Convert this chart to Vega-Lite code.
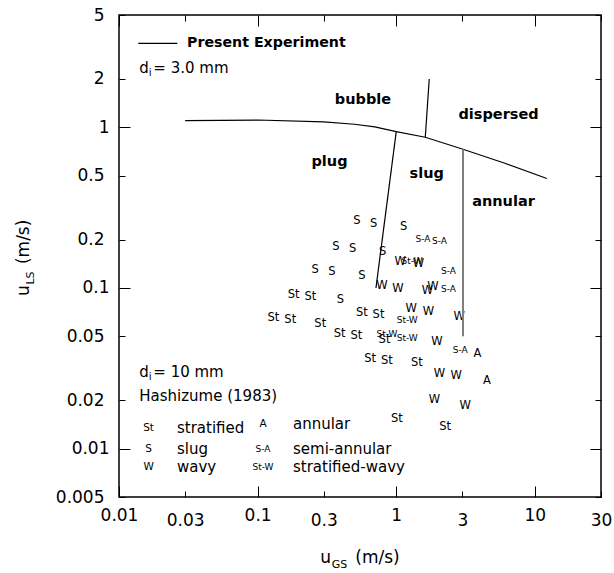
{
 "$schema": "https://vega.github.io/schema/vega-lite/v6.json",
 "width": 482, "height": 482,
 "autosize": "none",
 "padding": {"left": 119, "top": 15, "right": 13, "bottom": 76},
 "background": "white",
 "config": {
  "view": {"stroke": "black", "strokeWidth": 1.5},
  "text": {"font": "DejaVu Sans", "color": "black"},
  "axis": {"grid": false, "domain": false, "title": null, "labelFont": "DejaVu Sans", "labelFontSize": 17, "labelColor": "black", "tickColor": "black", "tickWidth": 1, "labelOverlap": false, "labelFlush": false}
 },
 "datasets": {
  "pts": [
   {"x":0.521,"y":0.261,"t":"S"},{"x":0.686,"y":0.250,"t":"S"},{"x":1.129,"y":0.241,"t":"S"},{"x":1.558,"y":0.202,"t":"S-A"},{"x":2.053,"y":0.197,"t":"S-A"},
   {"x":0.367,"y":0.181,"t":"S"},{"x":0.484,"y":0.175,"t":"S"},{"x":0.797,"y":0.168,"t":"S"},{"x":1.069,"y":0.145,"t":"W"},{"x":1.3,"y":0.147,"t":"St-W"},{"x":1.448,"y":0.142,"t":"W"},{"x":2.384,"y":0.128,"t":"S-A"},
   {"x":0.260,"y":0.129,"t":"S"},{"x":0.344,"y":0.126,"t":"S"},{"x":0.566,"y":0.119,"t":"S"},{"x":0.789,"y":0.103,"t":"W"},{"x":1.029,"y":0.098,"t":"W"},{"x":1.682,"y":0.096,"t":"W"},{"x":1.839,"y":0.101,"t":"W"},{"x":2.384,"y":0.098,"t":"S-A"},
   {"x":0.182,"y":0.091,"t":"St"},{"x":0.240,"y":0.088,"t":"St"},{"x":0.395,"y":0.084,"t":"S"},{"x":0.565,"y":0.070,"t":"St"},{"x":0.745,"y":0.068,"t":"St"},{"x":1.283,"y":0.074,"t":"W"},{"x":1.2,"y":0.063,"t":"St-W"},{"x":1.71,"y":0.071,"t":"W"},{"x":2.847,"y":0.066,"t":"W"},
   {"x":0.130,"y":0.065,"t":"St"},{"x":0.172,"y":0.063,"t":"St"},{"x":0.283,"y":0.060,"t":"St"},{"x":0.390,"y":0.052,"t":"St"},{"x":0.515,"y":0.050,"t":"St"},{"x":0.857,"y":0.052,"t":"St-W"},{"x":0.823,"y":0.0475,"t":"St"},{"x":1.2,"y":0.049,"t":"St-W"},{"x":1.966,"y":0.046,"t":"W"},{"x":2.894,"y":0.041,"t":"S-A"},{"x":3.858,"y":0.039,"t":"A"},
   {"x":0.649,"y":0.036,"t":"St"},{"x":0.857,"y":0.035,"t":"St"},{"x":1.41,"y":0.034,"t":"St"},{"x":2.053,"y":0.029,"t":"W"},{"x":2.708,"y":0.0285,"t":"W"},{"x":4.51,"y":0.0264,"t":"A"},
   {"x":1.889,"y":0.0201,"t":"W"},{"x":3.146,"y":0.0184,"t":"W"},{"x":1.012,"y":0.0152,"t":"St"},{"x":2.256,"y":0.0137,"t":"St"}
  ],
  "legsym": [
   {"x":0.01635,"y":0.01351,"t":"St"},{"x":0.01635,"y":0.00991,"t":"S"},{"x":0.01635,"y":0.00766,"t":"W"},
   {"x":0.1093,"y":0.01418,"t":"A"},{"x":0.1093,"y":0.00991,"t":"S-A"},{"x":0.1093,"y":0.00766,"t":"St-W"}
  ],
  "lines": [
   {"line":"pe","o":1,"x":0.03,"y":1.1},{"line":"pe","o":2,"x":0.1,"y":1.11},{"line":"pe","o":3,"x":0.3,"y":1.08},{"line":"pe","o":4,"x":0.5,"y":1.045},{"line":"pe","o":5,"x":0.7,"y":1.005},{"line":"pe","o":6,"x":1.0,"y":0.94},{"line":"pe","o":7,"x":1.62,"y":0.867},{"line":"pe","o":8,"x":3.03,"y":0.73},{"line":"pe","o":9,"x":6.0,"y":0.6},{"line":"pe","o":10,"x":12.2,"y":0.48},
   {"line":"bd","o":1,"x":1.73,"y":2.0},{"line":"bd","o":2,"x":1.62,"y":0.867},
   {"line":"ps","o":1,"x":1.0,"y":0.94},{"line":"ps","o":2,"x":0.714,"y":0.1},
   {"line":"leg","o":1,"x":0.01378,"y":3.332},{"line":"leg","o":2,"x":0.02634,"y":3.332}
  ],
  "annular": [
   {"o":1,"x":3.03,"y":0.73},{"o":2,"x":3.03,"y":0.05}
  ],
  "regions": [
   {"x":0.575,"y":1.48,"t":"bubble"},{"x":5.47,"y":1.19,"t":"dispersed"},{"x":0.33,"y":0.61,"t":"plug"},{"x":1.66,"y":0.51,"t":"slug"},{"x":5.94,"y":0.344,"t":"annular"}
  ],
  "notes": [
   {"x":0.014,"y":2.339,"t":"d"},{"x":0.01768,"y":2.339,"t":"= 3.0 mm"},
   {"x":0.014,"y":0.03014,"t":"d"},{"x":0.01768,"y":0.03014,"t":"= 10 mm"},
   {"x":0.014,"y":0.02137,"t":"Hashizume (1983)"},
   {"x":0.0262,"y":0.01351,"t":"stratified"},{"x":0.0262,"y":0.00991,"t":"slug"},{"x":0.0262,"y":0.00766,"t":"wavy"},
   {"x":0.1799,"y":0.01418,"t":"annular"},{"x":0.1799,"y":0.00991,"t":"semi-annular"},{"x":0.1799,"y":0.00766,"t":"stratified-wavy"}
  ],
  "subs": [
   {"x":0.0164,"y":2.339,"t":"i"},{"x":0.0164,"y":0.03014,"t":"i"}
  ],
  "bold": [
   {"x":0.03094,"y":3.332,"t":"Present Experiment"}
  ],
  "one": [{"k": 1}]
 },
 "layer": [
  {
   "data": {"name": "pts"},
   "mark": {"type": "text", "font": "DejaVu Sans"},
   "encoding": {
    "x": {"field": "x", "type": "quantitative", "scale": {"type": "log", "domain": [0.01, 30], "nice": false},
      "axis": {"orient": "bottom", "values": [0.01,0.03,0.1,0.3,1,3,10,30], "labelExpr": "'' + datum.value", "labelPadding": 21,
        "tickSize": {"condition": {"test": "abs(log(datum.value)/LN10 - round(log(datum.value)/LN10)) < 0.01", "value": -11}, "value": -6}}},
    "y": {"field": "y", "type": "quantitative", "scale": {"type": "log", "domain": [0.005, 5], "nice": false},
      "axis": {"orient": "left", "values": [0.005,0.01,0.02,0.05,0.1,0.2,0.5,1,2,5], "labelExpr": "'' + datum.value", "labelPadding": 21,
        "tickSize": {"condition": {"test": "abs(log(datum.value)/LN10 - round(log(datum.value)/LN10)) < 0.01", "value": -11}, "value": -6}}},
    "text": {"field": "t"},
    "size": {"condition": {"test": "length(datum.t) > 2", "value": 9}, "value": 11.5}
   }
  },
  {
   "data": {"name": "lines"},
   "mark": {"type": "line", "color": "black", "strokeWidth": 1.2},
   "encoding": {
    "x": {"field": "x", "type": "quantitative", "scale": {"type": "log", "domain": [0.01, 30], "nice": false},
      "axis": {"orient": "top", "values": [0.01,0.03,0.1,0.3,1,3,10,30], "labels": false,
        "tickSize": {"condition": {"test": "abs(log(datum.value)/LN10 - round(log(datum.value)/LN10)) < 0.01", "value": -11}, "value": -6}}},
    "y": {"field": "y", "type": "quantitative", "scale": {"type": "log", "domain": [0.005, 5], "nice": false},
      "axis": {"orient": "right", "values": [0.005,0.01,0.02,0.05,0.1,0.2,0.5,1,2,5], "labels": false,
        "tickSize": {"condition": {"test": "abs(log(datum.value)/LN10 - round(log(datum.value)/LN10)) < 0.01", "value": -11}, "value": -6}}},
    "detail": {"field": "line"},
    "order": {"field": "o"}
   }
  },
  {
   "data": {"name": "annular"},
   "mark": {"type": "line", "color": "#808080", "strokeWidth": 2},
   "encoding": {
    "x": {"field": "x", "type": "quantitative", "axis": null},
    "y": {"field": "y", "type": "quantitative", "axis": null},
    "order": {"field": "o"}
   }
  },
  {
   "data": {"name": "legsym"},
   "mark": {"type": "text", "font": "DejaVu Sans"},
   "encoding": {
    "x": {"field": "x", "type": "quantitative", "axis": null},
    "y": {"field": "y", "type": "quantitative", "axis": null},
    "text": {"field": "t"},
    "size": {"condition": {"test": "length(datum.t) > 2", "value": 9}, "value": 10.5}
   }
  },
  {
   "data": {"name": "regions"},
   "mark": {"type": "text", "font": "DejaVu Sans", "fontWeight": "bold", "fontSize": 14.5},
   "encoding": {
    "x": {"field": "x", "type": "quantitative", "axis": null},
    "y": {"field": "y", "type": "quantitative", "axis": null},
    "text": {"field": "t"}
   }
  },
  {
   "data": {"name": "bold"},
   "mark": {"type": "text", "font": "DejaVu Sans", "fontWeight": "bold", "fontSize": 14.2, "align": "left"},
   "encoding": {
    "x": {"field": "x", "type": "quantitative", "axis": null},
    "y": {"field": "y", "type": "quantitative", "axis": null},
    "text": {"field": "t"}
   }
  },
  {
   "data": {"name": "notes"},
   "mark": {"type": "text", "font": "DejaVu Sans", "fontSize": 15, "align": "left"},
   "encoding": {
    "x": {"field": "x", "type": "quantitative", "axis": null},
    "y": {"field": "y", "type": "quantitative", "axis": null},
    "text": {"field": "t"}
   }
  },
  {
   "data": {"name": "subs"},
   "mark": {"type": "text", "font": "DejaVu Sans", "fontSize": 10, "align": "left", "dy": 5},
   "encoding": {
    "x": {"field": "x", "type": "quantitative", "axis": null},
    "y": {"field": "y", "type": "quantitative", "axis": null},
    "text": {"field": "t"}
   }
  },
  {
   "data": {"name": "one"},
   "mark": {"type": "text", "text": "u", "font": "DejaVu Sans", "fontSize": 17, "align": "left", "baseline": "alphabetic", "dx": -40, "dy": 66},
   "encoding": {"x": {"datum": 0.55, "type": "quantitative", "axis": null}, "y": {"datum": 0.005, "type": "quantitative", "axis": null}}
  },
  {
   "data": {"name": "one"},
   "mark": {"type": "text", "text": "GS", "font": "DejaVu Sans", "fontSize": 11, "align": "left", "baseline": "alphabetic", "dx": -28.5, "dy": 71},
   "encoding": {"x": {"datum": 0.55, "type": "quantitative", "axis": null}, "y": {"datum": 0.005, "type": "quantitative", "axis": null}}
  },
  {
   "data": {"name": "one"},
   "mark": {"type": "text", "text": "(m/s)", "font": "DejaVu Sans", "fontSize": 17, "align": "left", "baseline": "alphabetic", "dx": -5, "dy": 66},
   "encoding": {"x": {"datum": 0.55, "type": "quantitative", "axis": null}, "y": {"datum": 0.005, "type": "quantitative", "axis": null}}
  },
  {
   "data": {"name": "one"},
   "mark": {"type": "text", "text": "u", "font": "DejaVu Sans", "fontSize": 17, "align": "left", "baseline": "alphabetic", "angle": 270, "dx": -40, "dy": -90},
   "encoding": {"x": {"datum": 0.01, "type": "quantitative", "axis": null}, "y": {"datum": 0.158, "type": "quantitative", "axis": null}}
  },
  {
   "data": {"name": "one"},
   "mark": {"type": "text", "text": "LS", "font": "DejaVu Sans", "fontSize": 11, "align": "left", "baseline": "alphabetic", "angle": 270, "dx": -28.5, "dy": -85},
   "encoding": {"x": {"datum": 0.01, "type": "quantitative", "axis": null}, "y": {"datum": 0.158, "type": "quantitative", "axis": null}}
  },
  {
   "data": {"name": "one"},
   "mark": {"type": "text", "text": "(m/s)", "font": "DejaVu Sans", "fontSize": 17, "align": "left", "baseline": "alphabetic", "angle": 270, "dx": -8, "dy": -90},
   "encoding": {"x": {"datum": 0.01, "type": "quantitative", "axis": null}, "y": {"datum": 0.158, "type": "quantitative", "axis": null}}
  }
 ],
 "resolve": {"axis": {"x": "independent", "y": "independent"}}
}
